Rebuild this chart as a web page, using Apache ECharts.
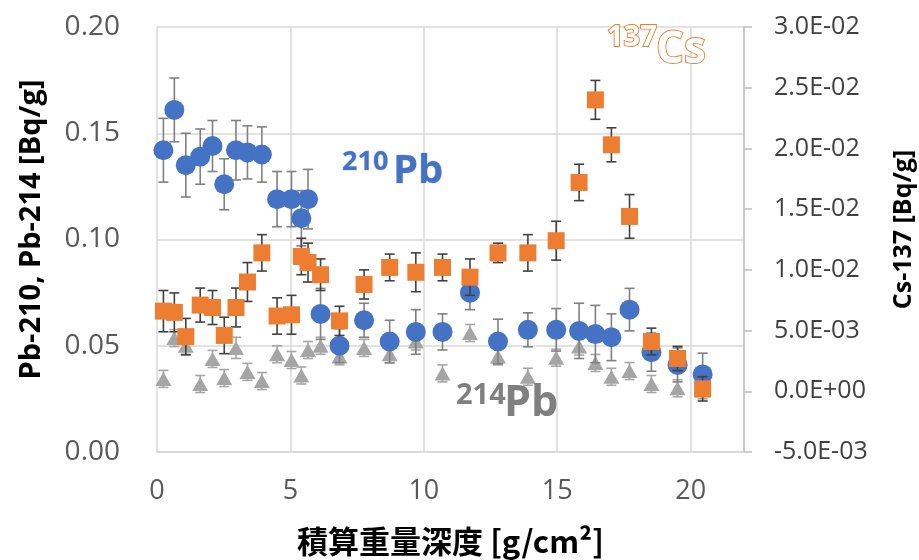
<!DOCTYPE html>
<html>
<head>
<meta charset="utf-8">
<script src="https://cdn.jsdelivr.net/npm/echarts@6/dist/echarts.min.js"></script>
<style>html,body{margin:0;padding:0;background:#fff;}#c{width:919px;height:560px;}</style>
</head>
<body>
<div id="c"></div>
<script>
// Depth (cumulative mass depth, g/cm2)
var depth = [0.24,0.65,1.08,1.62,2.08,2.52,2.96,3.39,3.93,4.50,5.04,5.41,5.66,6.13,6.84,7.76,8.72,9.70,10.70,11.73,12.78,13.90,14.96,15.82,16.43,17.03,17.71,18.53,19.51,20.45];
// Pb-210 [Bq/g]
var pb210 = [0.142,0.161,0.135,0.139,0.144,0.126,0.142,0.141,0.140,0.119,0.119,0.110,0.119,0.065,0.050,0.062,0.052,0.0565,0.0565,0.075,0.052,0.0575,0.0575,0.057,0.0555,0.054,0.067,0.047,0.041,0.0365];
var pb210Err = [0.015,0.015,0.015,0.013,0.012,0.012,0.014,0.0125,0.013,0.013,0.013,0.013,0.014,0.012,0.008,0.008,0.010,0.0105,0.0085,0.008,0.0105,0.008,0.010,0.013,0.0135,0.011,0.010,0.009,0.008,0.010];
// Cs-137 [Bq/g]
var cs137 = [0.0066,0.0065,0.0045,0.0071,0.0069,0.0046,0.0069,0.0090,0.0114,0.0062,0.0063,0.0111,0.0106,0.0096,0.0058,0.0088,0.0102,0.0098,0.0102,0.0094,0.0114,0.0114,0.0124,0.0172,0.0240,0.0203,0.0144,0.0041,0.0027,0.0002];
var cs137Err = [0.0017,0.0016,0.0015,0.0014,0.0014,0.0015,0.0016,0.0016,0.0015,0.0015,0.0016,0.0015,0.0016,0.0013,0.0012,0.0012,0.0011,0.0016,0.0011,0.0015,0.0008,0.0015,0.0016,0.0015,0.0016,0.0014,0.0018,0.0011,0.0010,0.0010];
// Pb-214 [Bq/g]
var pb214 = [0.0344,0.0536,0.050,0.032,0.0438,0.0348,0.049,0.0377,0.0334,0.046,0.0433,0.036,0.048,0.050,0.045,0.049,0.046,0.052,0.037,0.056,0.045,0.0354,0.0444,0.0496,0.0419,0.0354,0.0381,0.032,0.030,0.029];
var pb214Err = [0.004,0.004,0.004,0.004,0.004,0.004,0.005,0.004,0.004,0.004,0.004,0.004,0.004,0.004,0.004,0.004,0.004,0.004,0.004,0.004,0.004,0.004,0.004,0.004,0.004,0.004,0.004,0.004,0.004,0.004];
var xTicks = [0,5,10,15,20];

function pts(ys){ return depth.map(function(x,i){ return [x, ys[i]]; }); }
function errPts(ys, es){ return depth.map(function(x,i){ return [x, ys[i], es[i]]; }); }
function errSeries(data, yIdx, color, z){
  return {
    type:'custom', yAxisIndex:yIdx, z:z, silent:true, clip:false,
    data:data,
    renderItem:function(params, api){
      var x = api.value(0), y = api.value(1), e = api.value(2);
      var lo = api.coord([x, y - e]), hi = api.coord([x, y + e]);
      var w = 5;
      var st = {stroke:color, lineWidth:1.6, fill:null};
      return {type:'group', children:[
        {type:'line', shape:{x1:lo[0],y1:lo[1],x2:hi[0],y2:hi[1]}, style:st},
        {type:'line', shape:{x1:lo[0]-w,y1:lo[1],x2:lo[0]+w,y2:lo[1]}, style:st},
        {type:'line', shape:{x1:hi[0]-w,y1:hi[1],x2:hi[0]+w,y2:hi[1]}, style:st}
      ]};
    }
  };
}
function sci(v){
  if (Math.abs(v) < 1e-12) return '0.0E+00';
  var ex = Math.floor(Math.log10(Math.abs(v)) + 1e-9);
  var m = v / Math.pow(10, ex);
  var s = Math.abs(ex) < 10 ? '0' + Math.abs(ex) : '' + Math.abs(ex);
  return m.toFixed(1) + 'E' + (ex < 0 ? '-' : '+') + s;
}
var F = '"Open Sans", "Noto Sans", sans-serif';
var chart = echarts.init(document.getElementById('c'));
chart.setOption({
  backgroundColor:'#fff',
  animation:false,
  grid:{left:157, right:175, top:27, bottom:108, containLabel:false, outerBoundsMode:'none'},
  xAxis:{
    type:'value', min:0, max:22, interval:5,
    name:'積算重量深度 [g/cm²]', nameLocation:'middle', nameGap:74,
    nameTextStyle:{fontFamily:'"Noto Sans CJK JP", sans-serif', fontWeight:'bold', fontSize:31, color:'#000'},
    axisLine:{show:true, lineStyle:{color:'#d9d9d9', width:1.5}},
    axisTick:{show:false},
    axisLabel:{margin:26, fontFamily:F, fontSize:27, color:'#595959',
      formatter:function(v){ return xTicks.indexOf(v) >= 0 ? String(v) : ''; }},
    splitLine:{show:true, lineStyle:{color:'#d9d9d9', width:1.5}}
  },
  yAxis:[{
    type:'value', min:0, max:0.2, interval:0.05,
    name:'Pb-210, Pb-214 [Bq/g]', nameLocation:'middle', nameGap:111, nameRotate:90,
    nameTextStyle:{fontFamily:F, fontWeight:'bold', fontSize:29, color:'#000', padding:[0,0,0,20]},
    axisLine:{show:false}, axisTick:{show:false},
    axisLabel:{margin:37, fontFamily:F, fontSize:28, color:'#595959', formatter:function(v){ return v.toFixed(2); }},
    splitLine:{show:true, lineStyle:{color:'#d9d9d9', width:1.5}}
  },{
    type:'value', position:'right', min:-0.005, max:0.03, interval:0.005,
    name:'Cs-137 [Bq/g]', nameLocation:'middle', nameGap:147, nameRotate:90,
    nameTextStyle:{fontFamily:F, fontWeight:'bold', fontSize:25, color:'#000', padding:[0,0,0,20]},
    axisLine:{show:true, lineStyle:{color:'#bfbfbf', width:1.5}},
    axisTick:{show:true, inside:false, length:8, lineStyle:{color:'#bfbfbf', width:1.5}},
    axisLabel:{margin:30, fontFamily:F, fontSize:25, color:'#404040', formatter:sci},
    splitLine:{show:false}
  }],
  series:[
    errSeries(errPts(pb214, pb214Err), 0, '#a6a6a6', 2),
    {type:'scatter', name:'Pb-214', yAxisIndex:0, z:3, symbol:'triangle', symbolSize:[16,14],
      itemStyle:{color:'#a5a5a5', opacity:1}, data:pts(pb214)},
    errSeries(errPts(pb210, pb210Err), 0, '#808080', 4),
    {type:'scatter', name:'Pb-210', yAxisIndex:0, z:5, symbol:'circle', symbolSize:20,
      itemStyle:{color:'#4472c4', opacity:1}, data:pts(pb210)},
    errSeries(errPts(cs137, cs137Err), 1, '#404040', 6),
    {type:'scatter', name:'Cs-137', yAxisIndex:1, z:7, symbol:'rect', symbolSize:17,
      itemStyle:{color:'#ed7d31', opacity:1}, data:pts(cs137)}
  ],
  graphic:[
    {type:'text', z:100, style:{x:342, y:162, text:'210', fontFamily:F, fontWeight:'bold', fontSize:27, fill:'#4472c4', stroke:'#d6e0f5', lineWidth:1, verticalAlign:'middle'}},
    {type:'text', z:100, style:{x:393, y:172, text:'Pb', fontFamily:F, fontWeight:'bold', fontSize:40, fill:'#4472c4', stroke:'#d6e0f5', lineWidth:1, verticalAlign:'middle'}},
    {type:'text', z:100, style:{x:607, y:38, text:'137', fontFamily:F, fontWeight:'bold', fontSize:29, fill:'#fff', stroke:'#ed7d31', lineWidth:1.8, verticalAlign:'middle'}},
    {type:'text', z:100, style:{x:656, y:50, text:'Cs', fontFamily:F, fontWeight:'bold', fontSize:44, fill:'#fff', stroke:'#ed7d31', lineWidth:1.8, verticalAlign:'middle'}},
    {type:'text', z:100, style:{x:456, y:396, text:'214', fontFamily:F, fontWeight:'bold', fontSize:29, fill:'#7f7f7f', verticalAlign:'middle'}},
    {type:'text', z:100, style:{x:504, y:404, text:'Pb', fontFamily:F, fontWeight:'bold', fontSize:43, fill:'#7f7f7f', verticalAlign:'middle'}}
  ]
});
</script>
</body>
</html>
